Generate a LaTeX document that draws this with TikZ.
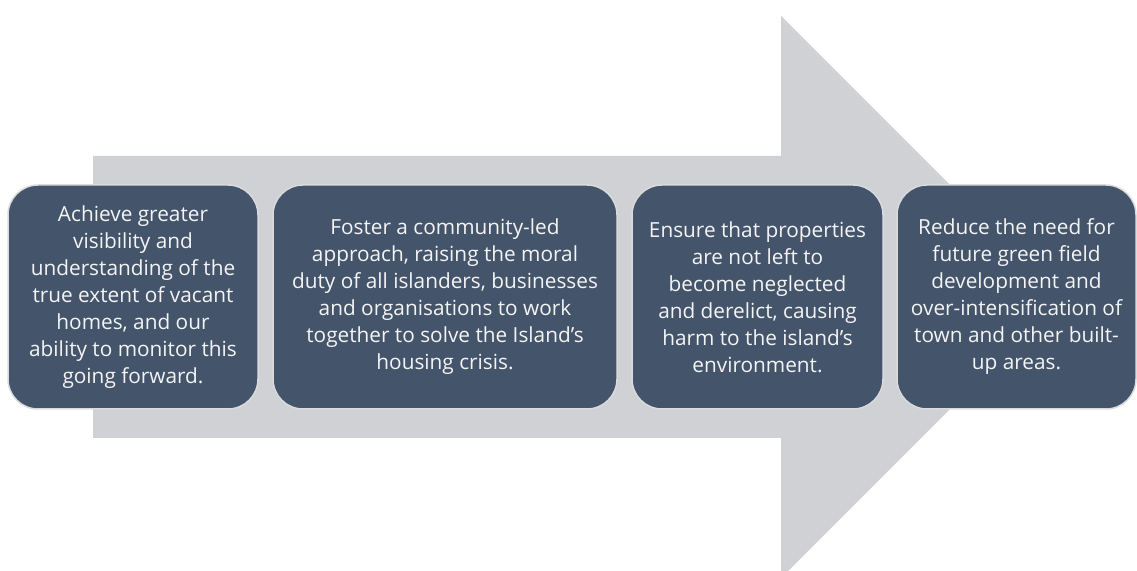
\documentclass[tikz,border=0pt]{standalone}
\usepackage{fontspec}
\setmainfont{Open Sans}
\usetikzlibrary{positioning}

\definecolor{slateblue}{HTML}{44546A}
\definecolor{arrowgrey}{HTML}{D0D1D5}
\definecolor{boxedge}{HTML}{DADBDD}
\definecolor{goaltext}{HTML}{F4F4F4}

\begin{document}
\begin{tikzpicture}[
    x=1pt, y=1pt,
    node distance=15pt,
    font={\fontsize{20.8pt}{27pt}\selectfont},
    % stili
    goal/.style={rectangle, rounded corners=30pt, minimum height=224pt, inner sep=0pt, outer sep=0pt, align=center, draw=boxedge, line width=1.5pt, fill=slateblue, text=goaltext},
    bigarrow/.style={fill=arrowgrey, draw=none}
  ]
  \useasboundingbox (0,0) rectangle (1137,570);
  \clip (0,0) rectangle (1137,570);

  % freccia di sfondo
  \fill[bigarrow] (93,132) -- (781,132) -- (781,-8) -- (1062,273)
    -- (781,554) -- (781,414) -- (93,414) -- cycle;

  % obiettivi
  \node (visibility) [goal, minimum width=250pt] at (133,273)
    {Achieve greater\\visibility and\\understanding of the\\true extent of vacant\\homes, and our\\ability to monitor this\\going forward.};
  \node (community) [goal, minimum width=344pt, right=of visibility]
    {Foster a community-led\\approach, raising the moral\\duty of all islanders, businesses\\and organisations to work\\together to solve the Island’s\\housing crisis.};
  \node (derelict) [goal, minimum width=251pt, right=of community]
    {Ensure that properties\\are not left to\\become neglected\\and derelict, causing\\harm to the island’s\\environment.};
  \node (greenfield) [goal, minimum width=239pt, right=14pt of derelict]
    {Reduce the need for\\future green field\\development and\\over-intensification of\\town and other built-\\up areas.};

\end{tikzpicture}
\end{document}
